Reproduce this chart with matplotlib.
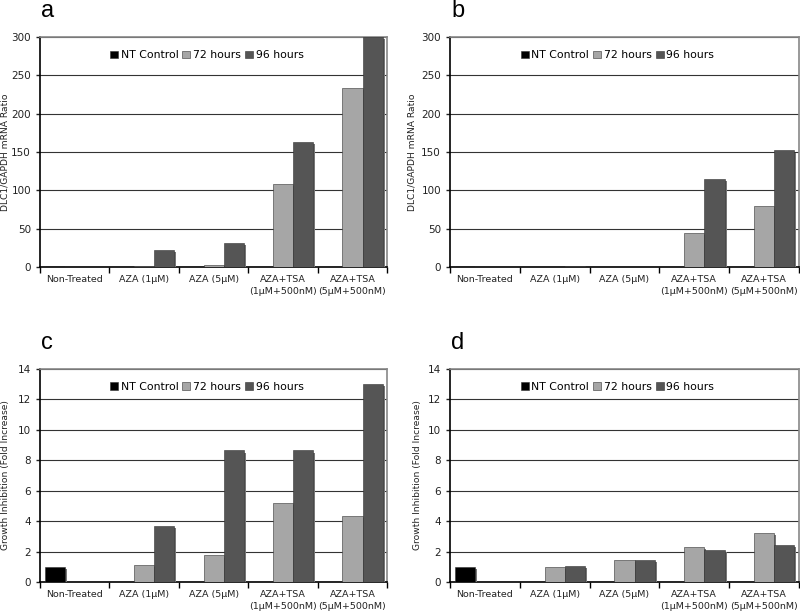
import matplotlib
matplotlib.use('Agg')
from matplotlib import pyplot as plt
from matplotlib import patheffects
from matplotlib.patches import Patch
import numpy as np

categories = ['Non-Treated', 'AZA (1µM)', 'AZA (5µM)',
              'AZA+TSA\n(1µM+500nM)', 'AZA+TSA\n(5µM+500nM)']
series = ['NT Control', '72 hours', '96 hours']
colors = ['#000000', '#a6a6a6', '#555555']

# panel a: DLC1/GAPDH mRNA ratio
a_nt = [1, 0, 0, 0, 0]
a_72 = [0, 1.5, 3, 108, 233]
a_96 = [0, 22, 32, 163, 300]

# panel b
b_nt = [1, 0, 0, 0, 0]
b_72 = [0, 0.3, 0.3, 45, 79]
b_96 = [0, 0.8, 0.6, 115, 152]

# panel c: growth inhibition
c_nt = [1.0, 0, 0, 0, 0]
c_72 = [0, 1.15, 1.75, 5.2, 4.35]
c_96 = [0, 3.7, 8.65, 8.65, 13.0]

# panel d
d_nt = [1.0, 0, 0, 0, 0]
d_72 = [0, 1.0, 1.45, 2.28, 3.2]
d_96 = [0, 1.05, 1.45, 2.12, 2.45]

plt.rcParams['font.family'] = 'DejaVu Sans'

W, H = 800, 614


def draw_panel(rect, letter, letter_y, data, ymax, ystep, ylabel, label_x):
    ax = fig.add_axes(rect)
    x = np.arange(len(categories))
    width = 0.29
    shadow = [patheffects.SimplePatchShadow(offset=(1.5, -1.5), shadow_rgbFace='#777777', alpha=1.0),
              patheffects.Normal()]
    for i, (vals, col) in enumerate(zip(data, colors)):
        bars = ax.bar(x + (i - 1) * width, vals, width, color=col,
                      edgecolor='#333333', linewidth=0.4, zorder=3)
        for b, v in zip(bars, vals):
            if v > 0:
                b.set_path_effects(shadow)
            else:
                b.set_visible(False)
    ax.set_xlim(-0.5, len(categories) - 0.5)
    ax.set_ylim(0, ymax)
    ax.set_yticks(np.arange(0, ymax + 1e-9, ystep))
    ax.yaxis.grid(True, color='#333333', linewidth=0.8, zorder=0)
    ax.set_axisbelow(True)
    ax.set_xticks(x)
    ax.set_xticklabels(categories, fontsize=6.8, color='#222222', linespacing=1.3)
    ax.set_xticks(np.arange(-0.5, len(categories)), minor=True)
    ax.tick_params(axis='x', which='major', length=0, pad=6)
    ax.tick_params(axis='x', which='minor', length=4, width=1, direction='out')
    ax.tick_params(axis='y', length=3, width=1, labelsize=7.5, colors='#222222')
    for s in ['top', 'right']:
        ax.spines[s].set_color('#888888')
        ax.spines[s].set_linewidth(1.2)
    for s in ['left', 'bottom']:
        ax.spines[s].set_linewidth(1.2)
    ax.set_ylabel(ylabel, fontsize=6.6, color='#222222')
    ax.yaxis.set_label_coords(label_x, 0.5)
    handles = [Patch(facecolor=c, edgecolor='#333333', linewidth=0.4) for c in colors]
    ax.legend(handles, series, loc='upper center', bbox_to_anchor=(0.48, 0.97), ncol=3,
              frameon=False, fontsize=7.8, handlelength=0.75, handleheight=0.75,
              handletextpad=0.25, columnspacing=0.35, borderaxespad=0.2)
    fig.text(rect[0] + 1 / W, 1 - letter_y / H, letter, fontsize=17,
             family='Liberation Sans', va='baseline', ha='left')
    return ax


fig = plt.figure(figsize=(8, 6.14), dpi=100)
draw_panel([0.05, 0.565, 0.434, 0.375], 'a', 17, [a_nt, a_72, a_96], 300, 50,
           'DLC1/GAPDH mRNA Ratio', -0.088)
draw_panel([0.5625, 0.565, 0.436, 0.375], 'b', 17, [b_nt, b_72, b_96], 300, 50,
           'DLC1/GAPDH mRNA Ratio', -0.095)
draw_panel([0.05, 0.052, 0.434, 0.347], 'c', 349, [c_nt, c_72, c_96], 14, 2,
           'Growth Inhibition (Fold Increase)', -0.085)
draw_panel([0.5625, 0.052, 0.436, 0.347], 'd', 349, [d_nt, d_72, d_96], 14, 2,
           'Growth Inhibition (Fold Increase)', -0.08)

fig.savefig('out.png', dpi=100)
